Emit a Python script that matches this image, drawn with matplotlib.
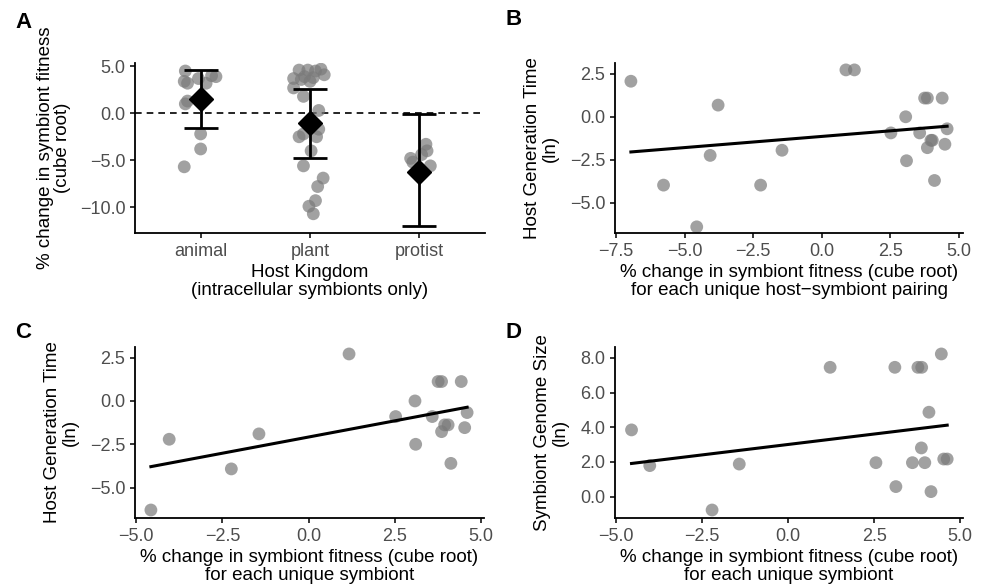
import matplotlib
matplotlib.use("Agg")
import matplotlib.pyplot as plt
import numpy as np

plt.rcParams['font.family'] = ['Liberation Sans', 'DejaVu Sans']

# Panel A: % change in symbiont fitness by host kingdom
kingdoms = ['animal', 'plant', 'protist']
animal_vals = [4.5, 3.4, 3.2, 3.7, 3.2, 3.9, 4.0, 1.0, 1.3, -2.2, -3.8, -5.7]
animal_jit = [-0.14, -0.15, -0.12, -0.02, 0.05, 0.14, 0.10, -0.14, -0.12, 0.0, 0.0, -0.15]
plant_vals = [4.6, 4.6, 4.7, 4.5, 4.1, 3.7, 3.9, 3.6, 3.4, 3.8, 2.7, 1.8, 0.3,
              -1.7, -2.2, -2.5, -2.5, -4.0, -5.6, -6.9, -7.8, -9.3, -9.9, -10.7]
plant_jit = [-0.10, -0.02, 0.10, 0.05, 0.13, -0.15, -0.05, -0.08, 0.0, 0.03, -0.15, -0.06, 0.08,
             0.08, -0.06, -0.10, 0.06, 0.01, -0.06, 0.12, 0.07, 0.05, -0.01, 0.03]
protist_vals = [-4.8, -3.3, -4.0, -4.4, -5.2, -5.6, -5.9]
protist_jit = [-0.08, 0.06, 0.07, 0.02, -0.06, 0.10, 0.0]
kingdom_mean = [1.49, -1.06, -6.2]
kingdom_lo = [-1.53, -4.72, -11.96]
kingdom_hi = [4.6, 2.55, -0.1]

# Panel B: each unique host-symbiont pairing
b_x = [-6.96, -5.77, -4.56, -3.78, -4.07, -2.23, -1.45, 0.88, 1.19, 2.52, 3.06, 3.09,
       3.57, 3.75, 3.85, 3.85, 3.98, 4.03, 4.11, 4.39, 4.49, 4.57]
b_y = [2.07, -3.98, -6.41, 0.68, -2.25, -3.98, -1.95, 2.73, 2.73, -0.94, 0.0, -2.56,
       -0.94, 1.09, 1.09, -1.80, -1.37, -1.37, -3.71, 1.09, -1.60, -0.70]
b_fit = [0.130, -1.144]  # slope, intercept

# Panels C and D: each unique symbiont
cd_x = [-4.57, -4.04, -2.24, -1.44, 1.17, 2.52, 3.08, 3.10, 3.58, 3.75, 3.85, 3.85,
        3.94, 4.04, 4.12, 4.42, 4.52, 4.59]
c_y = [-6.29, -2.21, -3.92, -1.90, 2.71, -0.90, 0.0, -2.5, -0.90, 1.12, 1.12, -1.77,
       -1.38, -1.38, -3.6, 1.12, -1.54, -0.67]
c_fit = [0.374, -2.08]
d_x = [-4.55, -4.02, -2.21, -1.42, 1.22, 2.55, 3.10, 3.13, 3.61, 3.77, 3.88, 3.87,
       3.97, 4.09, 4.15, 4.45, 4.52, 4.62]
d_y = [3.85, 1.79, -0.77, 1.88, 7.46, 1.96, 7.46, 0.58, 1.96, 7.46, 7.46, 2.81,
       1.96, 4.87, 0.29, 8.23, 2.17, 2.17]
d_fit = [0.241, 3.01]

fig = plt.figure(figsize=(9.87, 5.88), dpi=100)
axA = fig.add_axes([0.1368, 0.6037, 0.3546, 0.2891])
axB = fig.add_axes([0.6231, 0.6037, 0.3526, 0.2891])
axC = fig.add_axes([0.1368, 0.1185, 0.3536, 0.2919])
axD = fig.add_axes([0.6231, 0.1185, 0.3526, 0.2919])

pt_kw = dict(s=85, color='#7a7a7a', alpha=0.7, edgecolors='none', zorder=2)
tick_col = '#4d4d4d'
lab_size = 13.5


def style(ax):
    for side in ['top', 'right']:
        ax.spines[side].set_visible(False)
    for side in ['left', 'bottom']:
        ax.spines[side].set_linewidth(1.3)
    ax.tick_params(direction='out', length=3.5, width=1.1, labelsize=13,
                   labelcolor=tick_col, pad=3.5)


# A
for i, (vals, jit) in enumerate([(animal_vals, animal_jit), (plant_vals, plant_jit),
                                 (protist_vals, protist_jit)]):
    axA.scatter(np.array(jit) + i + 1, vals, **pt_kw)
pos = np.arange(1, len(kingdoms) + 1)
mean = np.array(kingdom_mean)
axA.errorbar(pos, mean, yerr=[mean - np.array(kingdom_lo), np.array(kingdom_hi) - mean],
             fmt='none', ecolor='black', elinewidth=2, capsize=12, capthick=2, zorder=3)
axA.plot(pos, mean, 'D', color='black', ms=12, zorder=4)
axA.axhline(0, color='black', ls=(0, (4, 3)), lw=1.2, zorder=1)
axA.set_xlim(0.4, 3.6)
axA.set_ylim(-12.75, 5.35)
axA.set_xticks(pos)
axA.set_xticklabels(kingdoms)
axA.set_yticks([5, 0, -5, -10])
axA.set_yticklabels(['5.0', '0.0', '\u22125.0', '\u221210.0'])
axA.set_xlabel('Host Kingdom\n(intracellular symbionts only)', fontsize=lab_size,
               linespacing=1.05, labelpad=3)
axA.set_ylabel('% change in symbiont fitness\n(cube root)', fontsize=lab_size,
               linespacing=1.05, labelpad=6)
style(axA)


def scatter_panel(ax, x, y, fit, xlim, ylim, xticks, yticks, xlabel, ylabel):
    ax.scatter(x, y, **pt_kw)
    xs = np.array([min(x), max(x)])
    ax.plot(xs, fit[0] * xs + fit[1], color='black', lw=2.2, zorder=3)
    ax.set_xlim(*xlim)
    ax.set_ylim(*ylim)
    ax.set_xticks(xticks)
    ax.set_xticklabels([f'{v:.1f}'.replace('-', '\u2212') for v in xticks])
    ax.set_yticks(yticks)
    ax.set_yticklabels([f'{v:.1f}'.replace('-', '\u2212') for v in yticks])
    ax.set_xlabel(xlabel, fontsize=lab_size, linespacing=1.05, labelpad=3)
    ax.set_ylabel(ylabel, fontsize=lab_size, linespacing=1.05, labelpad=8)
    style(ax)


scatter_panel(axB, b_x, b_y, b_fit, (-7.54, 5.15), (-6.77, 3.13),
              [-7.5, -5.0, -2.5, 0.0, 2.5, 5.0], [-5.0, -2.5, 0.0, 2.5],
              '% change in symbiont fitness (cube root)\nfor each unique host\u2212symbiont pairing',
              'Host Generation Time\n(ln)')
scatter_panel(axC, cd_x, c_y, c_fit, (-5.03, 5.08), (-6.77, 3.13),
              [-5.0, -2.5, 0.0, 2.5, 5.0], [-5.0, -2.5, 0.0, 2.5],
              '% change in symbiont fitness (cube root)\nfor each unique symbiont',
              'Host Generation Time\n(ln)')
scatter_panel(axD, d_x, d_y, d_fit, (-5.03, 5.08), (-1.25, 8.65),
              [-5.0, -2.5, 0.0, 2.5, 5.0], [0.0, 2.0, 4.0, 6.0, 8.0],
              '% change in symbiont fitness (cube root)\nfor each unique symbiont',
              'Symbiont Genome Size\n(ln)')

for lab, x, y in [('A', 0.024, 0.962), ('B', 0.52, 0.966), ('C', 0.023, 0.434), ('D', 0.52, 0.434)]:
    fig.text(x, y, lab, fontsize=16, fontweight='bold', ha='center', va='center')

fig.savefig('out.png', dpi=100)
